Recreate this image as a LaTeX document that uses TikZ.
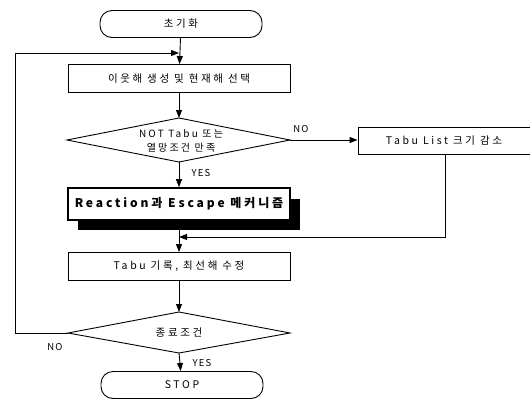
\documentclass[tikz,border=0pt]{standalone}
\usepackage{fontspec}
\setmainfont{Noto Sans CJK KR}[LetterSpace=25]
\newfontfamily\dfont{Noto Sans CJK KR}[LetterSpace=22]
\newfontfamily\rfont{Noto Sans CJK KR}[LetterSpace=24]
\newfontfamily\lfont{Noto Sans CJK KR}[LetterSpace=12]
\usetikzlibrary{shapes.geometric,arrows.meta}
\begin{document}
\begin{tikzpicture}[x=1pt,y=-1pt,
  line width=0.9pt,
  txt/.style={font=\fontsize{10.5}{12}\selectfont},
  term/.style={draw,rounded corners=12pt,minimum width=162pt,minimum height=27pt,inner sep=0pt,txt},
  proc/.style={draw,minimum width=222pt,minimum height=28pt,inner sep=0pt,txt},
  dtext/.style={inner sep=0pt,align=center},
  arr/.style={-{Triangle[length=8pt,width=6pt]}},
  lab/.style={font=\lfont\fontsize{9.5}{10}\selectfont}]
\useasboundingbox (0,0) rectangle (530,408);
% decision 1 outline
\coordinate (d1t) at (179,118);
\coordinate (d1r) at (290,140);
\coordinate (d1b) at (179,162);
\coordinate (d1l) at (67,140);
\draw (d1t) -- (d1r) -- (d1b) -- (d1l) -- cycle;
\node[dtext,font=\dfont\fontsize{10}{11}\selectfont] (d1) at (181,141) {NOT Tabu 또는\\[3pt]열망조건 만족};
% decision 2 outline
\coordinate (d2t) at (179,312);
\coordinate (d2r) at (290,333);
\coordinate (d2b) at (179,353);
\coordinate (d2l) at (68,333);
\draw (d2t) -- (d2r) -- (d2b) -- (d2l) -- cycle;
\node[dtext,txt] (d2) at (179,333) {종료조건};
\node[term] (start) at (181,24) {초기화};
\node[proc] (p1) at (179,78.5) {이웃해 생성 및 현재해 선택};
\node[draw,minimum width=172pt,minimum height=27pt,inner sep=0pt,txt] (tl) at (444,141) {Tabu List 크기 감소};
\fill (78,199) rectangle (300,230);
\node[draw,fill=white,line width=1.6pt,minimum width=222pt,minimum height=32pt,inner sep=0pt,font=\rfont\fontsize{12}{14}\selectfont\bfseries] (re) at (179,204) {Reaction과 Escape 메커니즘};
\node[proc] (p2) at (179,266.5) {Tabu 기록, 최선해 수정};
\node[term] (stop) at (182,385) {STOP};
\coordinate (j1) at (179,53);
\coordinate (j2) at (179,237);
\coordinate (tlb) at (445,154.5);
\draw[arr] (start) -- (p1);
\draw[arr] (p1) -- (d1t);
\draw[arr] (d1r) -- (d1r -| tl.west);
\node[lab] (no1) at (301,129) {NO};
\draw[arr] (d1b) -- (re);
\node[lab] (yes1) at (201,173) {YES};
\draw (re.south -| j2) -- (j2);
\draw[arr] (tlb) |- (j2);
\draw[arr] (j2) -- (p2);
\draw[arr] (p2) -- (d2t);
\draw[arr] (d2b) -- (stop);
\node[lab] (yes2) at (202,363) {YES};
\draw[arr] (d2l) -- (15,333) -- (15,53) -- (j1);
\node[lab] (no2) at (55,347) {NO};
\end{tikzpicture}
\end{document}
